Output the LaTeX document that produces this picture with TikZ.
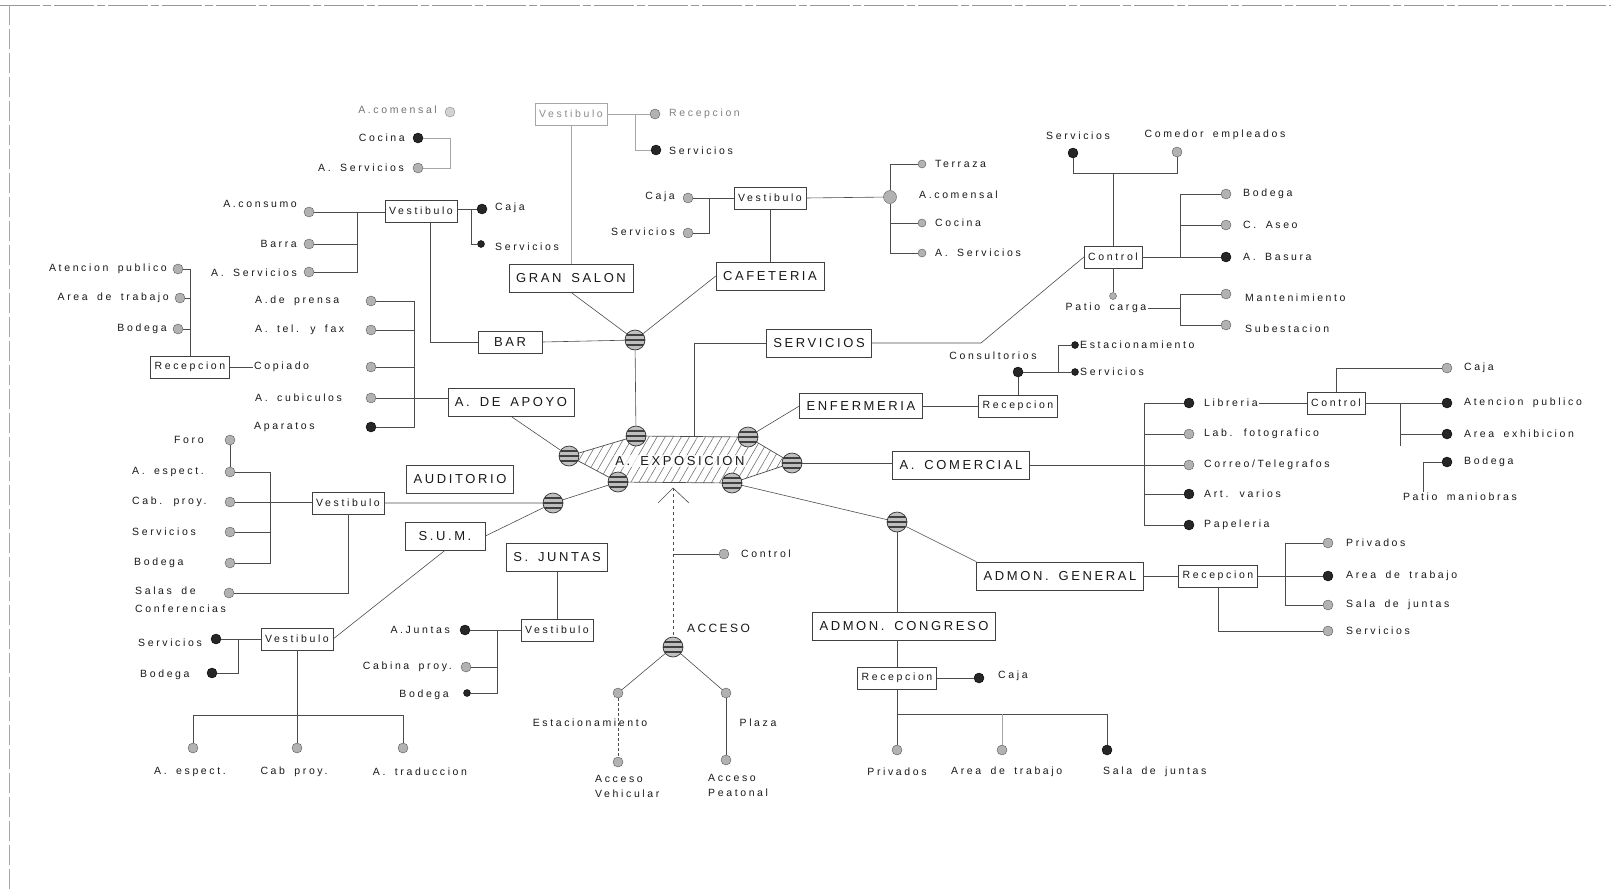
\documentclass[tikz,border=0pt]{standalone}
\usepackage{fontspec}
\setmainfont{Liberation Sans}[LetterSpace=25, WordSpace=1.7]
\newfontfamily\roomfont{Liberation Sans}[LetterSpace=20, WordSpace=1.6]
\usetikzlibrary{patterns.meta, backgrounds}

\begin{document}
\begin{tikzpicture}[x=1pt, y=-1pt,
	link/.style={draw=black!70, line width=0.6pt},
	faint/.style={draw=black!35, line width=0.6pt},
	txt/.style={font=\fontsize{10.5}{13}\selectfont, text=black!90, inner sep=1pt},
	room/.style={draw=black!75, line width=0.7pt, fill=white, text=black!90,
		font=\roomfont\fontsize{13}{15}\selectfont, inner xsep=7pt, minimum height=28pt},
	sub/.style={draw=black!75, line width=0.6pt, fill=white, text=black!90,
		font=\fontsize{10.5}{13}\selectfont, inner xsep=4pt, minimum height=22pt},
	dot/.style={circle, fill=gray!60, draw=black!65, minimum size=10pt, inner sep=0pt},
	dotk/.style={dot, fill=black!85, draw=black},
	sdot/.style={dotk, minimum size=7pt},
	globe/.style={circle, fill=gray!50, draw=black!80, line width=0.7pt, minimum size=20pt, inner sep=0pt,
		path picture={\foreach \k in {-5,0,5}
			\draw[black!75, line width=1.1pt] ([yshift=\k*1pt]path picture bounding box.west) -- ([yshift=\k*1pt]path picture bounding box.east);}}
	]
	\useasboundingbox (0,0) rectangle (1611,889);
	\draw[black!40, dash pattern=on 40pt off 3pt on 8pt off 3pt] (0,5) -- (1611,5);
	\draw[black!35, dash pattern=on 20pt off 4pt] (9,5) -- (9,889);

	% rooms
	\node[room] (gransalon) at (571,278) {GRAN SALON};
	\node[room] (cafeteria) at (770,276) {CAFETERIA};
	\node[room, minimum width=64pt, minimum height=22pt] (bar) at (510,342) {BAR};
	\node[room] (servicios) at (819,343) {SERVICIOS};
	\node[room] (apoyo) at (511,402) {A. DE APOYO};
	\node[room, minimum height=25pt] (enfermeria) at (861,406) {ENFERMERIA};
	\node[room] (comercial) at (961,465) {A. COMERCIAL};
	\node[room] (auditorio) at (460,479) {AUDITORIO};
	\node[room, minimum width=80pt] (sum) at (445,536) {S.U.M.};
	\node[room] (juntas) at (557,557) {S. JUNTAS};
	\node[room] (admongen) at (1060,576) {ADMON. GENERAL};
	\node[room] (admoncong) at (904,626) {ADMON. CONGRESO};

	\node[sub, draw=black!35, text=black!45] (gsvest) at (571,114) {Vestibulo};
	\node[sub] (barvest) at (421,211) {Vestibulo};
	\node[sub] (cafvest) at (770,198) {Vestibulo};
	\node[sub] (ctlserv) at (1113,257) {Control};
	\node[sub] (leftrec) at (190,367) {Recepcion};
	\node[sub] (audvest) at (348,503) {Vestibulo};
	\node[sub] (sumvest) at (297,639) {Vestibulo};
	\node[sub] (sjvest) at (557,630) {Vestibulo};
	\node[sub] (enfrec) at (1018,406) {Recepcion};
	\node[sub] (ctlcom) at (1336,403) {Control};
	\node[sub] (agrec) at (1218,576) {Recepcion};
	\node[sub] (acrec) at (897,678) {Recepcion};

	% hub
	\node[globe] (g1) at (635,340) {};
	\node[globe] (ga) at (636,436) {};
	\node[globe] (gl) at (569,456) {};
	\node[globe] (gtr) at (748,437) {};
	\node[globe] (gr) at (792,463) {};
	\node[globe] (gbr) at (732,483) {};
	\node[globe] (gbl) at (618,482) {};
	\node[globe] (gaud) at (553,503) {};
	\node[globe] (gadm) at (897,522) {};
	\node[globe] (gacc) at (673,647) {};
	\begin{scope}[on background layer]
		\draw[draw=black!70, line width=0.7pt, pattern={Lines[angle=60,distance=7pt,line width=0.6pt]}, pattern color=black!55]
		(gl.center) -- (ga.center) -- (gtr.center) -- (gr.center) -- (gbr.center) -- (gbl.center) -- cycle;
	\end{scope}
	\node[font=\roomfont\fontsize{13}{15}\selectfont, text=black!90, fill=white, fill opacity=0.75, text opacity=1, inner sep=1.5pt] (expo) at (680,461) {A. EXPOSICION};

	% left reception
	\node[dot] (ap) at (178,269) {};  \node[txt, anchor=east] (apt) at (168,269) {Atencion publico};
	\node[dot] (atr) at (180,298) {}; \node[txt, anchor=east] (atrt) at (170,298) {Area de trabajo};
	\node[dot] (ab) at (178,329) {};  \node[txt, anchor=east] (abt) at (168,329) {Bodega};
	\node[txt, anchor=west] (cpt) at (253,367) {Copiado};
	\node[dot] (cp) at (371,367) {};
	\node[dot] (pr) at (371,301) {};  \node[txt, anchor=west] (prt) at (254,301) {A.de prensa};
	\node[dot] (tf) at (371,330) {};  \node[txt, anchor=west] (tft) at (254,330) {A. tel. y fax};
	\node[dot] (cu) at (371,398) {};  \node[txt, anchor=west] (cut) at (254,398) {A. cubiculos};
	\node[dotk] (apa) at (371,427) {}; \node[txt, anchor=west] (apat) at (253,427) {Aparatos};

	% bar
	\node[dot] (cons) at (309,212) {};  \node[txt, anchor=east] (const) at (298,204) {A.consumo};
	\node[dot] (bra) at (309,244) {};   \node[txt, anchor=east] (brat) at (298,244) {Barra};
	\node[dot] (bas1) at (309,272) {};  \node[txt, anchor=east] (bas1t) at (298,273) {A. Servicios};
	\node[dotk] (bcaja) at (482,209) {}; \node[txt, anchor=west] (bcajat) at (494,208) {Caja};
	\node[sdot] (bser) at (481,244) {}; \node[txt, anchor=west] (bsert) at (494,247) {Servicios};

	% upper left group and gran salon
	\node[dot, draw=black!45, fill=gray!35] (tcom) at (450,112) {};
	\node[txt, anchor=east, text=black!55] (tcomt) at (438,110) {A.comensal};
	\node[dotk] (tcoc) at (418,138) {}; \node[txt, anchor=east] (tcoct) at (406,138) {Cocina};
	\node[dot] (tas) at (418,168) {};  \node[txt, anchor=east] (tast) at (405,168) {A. Servicios};
	\node[dot] (grec) at (655,114) {}; \node[txt, anchor=west, text=black!50] (grect) at (668,114) {Recepcion};
	\node[dotk] (gser) at (656,150) {}; \node[txt, anchor=west] (gsert) at (668,151) {Servicios};

	% cafeteria
	\node[dot] (ccaja) at (688,198) {}; \node[txt, anchor=east] (ccajat) at (676,197) {Caja};
	\node[dot] (cser) at (688,233) {};  \node[txt, anchor=east] (csert) at (676,232) {Servicios};
	\node[dot, minimum size=13pt] (ccom) at (890,197) {}; \node[txt, anchor=west] (ccomt) at (918,195) {A.comensal};
	\node[dot, minimum size=8pt] (cter) at (922,164) {}; \node[txt, anchor=west] (ctert) at (934,164) {Terraza};
	\node[dot, minimum size=8pt] (ccoc) at (922,223) {}; \node[txt, anchor=west] (ccoct) at (934,223) {Cocina};
	\node[dot, minimum size=8pt] (cas) at (922,253) {};  \node[txt, anchor=west] (cast) at (934,253) {A. Servicios};

	% servicios
	\node[dotk] (srv) at (1073,153) {}; \node[txt] (srvt) at (1078,136) {Servicios};
	\node[dot] (ced) at (1177,152) {};  \node[txt] (cedt) at (1215,135) {Comedor empleados};
	\node[dot] (sbod) at (1226,194) {}; \node[txt, anchor=west] (sbodt) at (1242,194) {Bodega};
	\node[dot] (sase) at (1226,225) {}; \node[txt, anchor=west] (saset) at (1242,225) {C. Aseo};
	\node[dotk] (sbas) at (1226,257) {}; \node[txt, anchor=west] (sbast) at (1242,257) {A. Basura};
	\node[dot, minimum size=7pt] (pc) at (1113,296) {}; \node[txt] (pct) at (1106,308) {Patio carga};
	\node[dot] (man) at (1226,294) {};  \node[txt, anchor=west] (mant) at (1244,298) {Mantenimiento};
	\node[dot] (subst) at (1226,325) {}; \node[txt, anchor=west] (substt) at (1244,329) {Subestacion};

	% enfermeria
	\node[dotk] (consd) at (1018,372) {}; \node[txt] (consdt) at (993,356) {Consultorios};
	\node[sdot] (eest) at (1075,345) {}; \node[txt, anchor=west] (eestt) at (1079,345) {Estacionamiento};
	\node[sdot] (eser) at (1075,372) {}; \node[txt, anchor=west] (esert) at (1079,372) {Servicios};

	% comercial
	\node[dotk] (lib) at (1189,403) {}; \node[txt, anchor=west] (libt) at (1203,403) {Libreria};
	\node[dot] (lab) at (1189,434) {};  \node[txt, anchor=west] (labt) at (1203,434) {Lab. fotografico};
	\node[dot] (cor) at (1189,465) {};  \node[txt, anchor=west] (cort) at (1203,465) {Correo/Telegrafos};
	\node[dotk] (art) at (1189,494) {}; \node[txt, anchor=west] (artt) at (1203,494) {Art. varios};
	\node[dotk] (pap) at (1189,525) {}; \node[txt, anchor=west] (papt) at (1203,525) {Papeleria};
	\node[dot] (caja2) at (1447,368) {}; \node[txt, anchor=west] (caja2t) at (1463,368) {Caja};
	\node[dotk] (atp) at (1447,403) {}; \node[txt, anchor=west] (atpt) at (1463,403) {Atencion publico};
	\node[dotk] (aex) at (1447,434) {}; \node[txt, anchor=west] (aext) at (1463,434) {Area exhibicion};
	\node[dotk] (bod2) at (1447,462) {}; \node[txt, anchor=west] (bod2t) at (1463,462) {Bodega};
	\node[txt] (pmt) at (1460,497) {Patio maniobras};

	% admon
	\node[dot] (pv) at (1328,543) {};   \node[txt, anchor=west] (pvt) at (1345,543) {Privados};
	\node[dotk] (adt2) at (1328,576) {}; \node[txt, anchor=west] (adt2t) at (1345,576) {Area de trabajo};
	\node[dot] (sj2) at (1328,605) {};  \node[txt, anchor=west] (sj2t) at (1345,605) {Sala de juntas};
	\node[dot] (sv2) at (1328,631) {};  \node[txt, anchor=west] (sv2t) at (1345,631) {Servicios};
	\node[dotk] (caja3) at (979,678) {}; \node[txt, anchor=west] (caja3t) at (997,676) {Caja};
	\node[dot] (pri) at (897,750) {};   \node[txt] (prit) at (897,772) {Privados};
	\node[dot] (adt) at (1002,750) {};  \node[txt, anchor=west] (adtt) at (950,772) {Area de trabajo};
	\node[dotk] (sdj) at (1107,750) {}; \node[txt, anchor=west] (sdjt) at (1102,772) {Sala de juntas};

	% acceso
	\coordinate (ent) at (673,488);
	\coordinate (entl) at (658,503);
	\coordinate (entr) at (689,503);
	\node[dot] (ctl) at (724,554) {}; \node[txt, anchor=west] (ctlt) at (740,554) {Control};
	\node[txt, anchor=west, font=\roomfont\fontsize{12}{14}\selectfont] (acct) at (686,628) {ACCESO};
	\node[dot] (estd) at (618,693) {}; \node[txt] (estt) at (590,723) {Estacionamiento};
	\node[dot] (plad) at (726,693) {}; \node[txt] (plat) at (758,723) {Plaza};
	\node[dot] (avd) at (618,762) {};
	\node[txt, anchor=north west, align=left, font=\fontsize{10.5}{15}\selectfont] (avt) at (594,774) {Acceso\\Vehicular};
	\node[dot] (apd) at (726,760) {};
	\node[txt, anchor=north west, align=left, font=\fontsize{10.5}{15}\selectfont] (apdt) at (707,773) {Acceso\\Peatonal};

	% juntas
	\node[dotk] (aj) at (465,630) {}; \node[txt, anchor=east] (ajt) at (451,630) {A.Juntas};
	\node[dot] (cpy) at (466,667) {}; \node[txt, anchor=east] (cpyt) at (453,667) {Cabina proy.};
	\node[dotk, minimum size=7pt] (jbod) at (467,693) {}; \node[txt, anchor=east] (jbodt) at (450,695) {Bodega};

	% auditorio and sum
	\node[dot] (foro) at (230,440) {}; \node[txt, anchor=west] (forot) at (173,440) {Foro};
	\node[dot] (aes) at (230,472) {};  \node[txt, anchor=west] (aest) at (131,472) {A. espect.};
	\node[dot] (cpr) at (230,502) {};  \node[txt, anchor=west] (cprt) at (131,502) {Cab. proy.};
	\node[dot] (aser) at (230,532) {}; \node[txt, anchor=west] (asert) at (131,532) {Servicios};
	\node[dot] (abod) at (230,563) {}; \node[txt, anchor=west] (abodt) at (133,563) {Bodega};
	\node[dot] (sal) at (229,593) {};
	\node[txt, anchor=north west, align=left, font=\fontsize{10.5}{18}\selectfont] (salt) at (134,586) {Salas de\\Conferencias};
	\node[dotk] (sser) at (216,639) {}; \node[txt, anchor=west] (ssert) at (137,643) {Servicios};
	\node[dotk] (sbod2) at (212,673) {}; \node[txt, anchor=west] (sbod2t) at (139,675) {Bodega};
	\node[dot] (bes) at (193,748) {}; \node[txt] (best) at (190,772) {A. espect.};
	\node[dot] (bcp) at (297,748) {}; \node[txt] (bcpt) at (294,772) {Cab proy.};
	\node[dot] (btr) at (403,748) {}; \node[txt] (btrt) at (420,772) {A. traduccion};

	% connectors
	\draw[link] (ap) -| (leftrec.north);
	\draw[link] (atr) -- (atr -| leftrec.north);
	\draw[link] (ab) -- (ab -| leftrec.north);
	\draw[link] (leftrec) -- (cpt);
	\coordinate (apx) at (414,0);
	\draw[link] (pr) -- (pr -| apx) -- (apa -| apx) -- (apa);
	\draw[link] (tf) -- (tf -| apx);
	\draw[link] (cp) -- (cp -| apx);
	\draw[link] (cu) -- (cu -| apoyo.west);
	\draw[link] (apoyo.south) -- (gl);

	\coordinate (brx) at (357,0);
	\draw[link] (cons) -- (cons -| barvest.west);
	\draw[link] (cons -| brx) -- (bas1 -| brx) -- (bas1);
	\draw[link] (bra) -- (bra -| brx);
	\draw[link] (barvest.east |- bcaja) -- (bcaja);
	\coordinate (bcx) at (471,0);
	\draw[link] (bcaja -| bcx) -- (bser -| bcx) -- (bser);
	\coordinate (bvx) at (430,0);
	\draw[link] (barvest.south -| bvx) |- (bar.west);
	\draw[link] (bar.east) -- (g1);

	\draw[faint] (tcoc) -- (tcoc -| tcom) -- (tas -| tcom) -- (tas);
	\coordinate (gsx) at (635,0);
	\draw[faint] (gsvest.east) -- (grec);
	\draw[faint] (grec -| gsx) -- (gser -| gsx) -- (gser);
	\draw[faint] (gsvest.south) -- (gransalon.north);
	\draw[link] (gransalon.south) -- (g1);
	\draw[link] (g1) -- (cafeteria.west);
	\draw[link] (g1) -- (ga);

	\coordinate (cfx) at (709,0);
	\draw[link] (cafvest.west) -- (ccaja);
	\draw[link] (ccaja -| cfx) -- (cser -| cfx) -- (cser);
	\draw[link] (cafvest) -- (cafeteria);
	\draw[link] (cafvest.east) -- (ccom);
	\draw[link] (cter) -- (cter -| ccom) -- (ccom);
	\draw[link] (ccom) -- (cas -| ccom) -- (cas);
	\draw[link] (ccoc) -- (ccoc -| ccom);

	\coordinate (sx) at (694,0);
	\draw[link] (servicios.west) -- (servicios.west -| sx) -- (sx |- ga);
	\coordinate (sv) at (981,343);
	\draw[link] (servicios.east) -- (sv) -- (ctlserv.west);
	\coordinate (cbar) at (0,173);
	\draw[link] (srv) -- (srv |- cbar) -- (ced |- cbar) -- (ced);
	\draw[link] (ctlserv.north) -- (ctlserv.north |- cbar);
	\coordinate (scx) at (1180,0);
	\draw[link] (ctlserv.east) -- (sbas);
	\draw[link] (sbod) -- (sbod -| scx) -- (sbas -| scx);
	\draw[link] (sase) -- (sase -| scx);
	\draw[link] (ctlserv.south) -- (pc);
	\draw[link] (man) -- (man -| scx) -- (subst -| scx) -- (subst);
	\draw[link] (pct.east) -- (pct.east -| scx);

	\draw[link] (gtr) -- (enfermeria.west);
	\draw[link] (enfermeria.east) -- (enfrec.west);
	\draw[link, line width=1pt] (consd) -- (enfrec.north);
	\coordinate (ecx) at (1058,0);
	\draw[link] (consd) -- (eser);
	\draw[link] (eest) -- (eest -| ecx) -- (eser -| ecx);

	\draw[link] (gr) -- (gr -| comercial.west);
	\draw[link] (comercial.east) -- (cor);
	\coordinate (lx) at (1144,0);
	\draw[link] (lib) -- (lib -| lx) -- (pap -| lx) -- (pap);
	\draw[link] (lab) -- (lab -| lx);
	\draw[link] (art) -- (art -| lx);
	\draw[link] (libt.east) -- (ctlcom.west);
	\draw[link] (ctlcom.north) |- (caja2);
	\draw[link] (ctlcom.east) -- (atp);
	\coordinate (cmx) at (1400,446);
	\draw[link] (atp -| cmx) -- (cmx);
	\draw[link] (aex) -- (aex -| cmx);
	\coordinate (cbx) at (1423,0);
	\draw[link] (bod2) -- (bod2 -| cbx) -- (pmt.north -| cbx);

	\draw[link] (gbr) -- (gadm) -- (admongen.north west);
	\draw[link] (gadm) -- (gadm |- admoncong.north);
	\draw[link] (admoncong.south -| acrec) -- (acrec);
	\draw[link] (acrec) -- (caja3);
	\coordinate (cbb) at (0,714);
	\draw[link] (acrec) -- (pri);
	\draw[link] (pri |- cbb) -- (sdj |- cbb) -- (sdj);
	\draw[faint] (adt |- cbb) -- (adt);
	\draw[link] (admongen.east) -- (agrec.west);
	\coordinate (agx) at (1285,0);
	\draw[link] (agrec.east) -- (adt2);
	\draw[link] (pv) -- (pv -| agx) -- (sj2 -| agx) -- (sj2);
	\draw[link] (agrec.south) |- (sv2);

	\coordinate (adx) at (270,0);
	\draw[link] (foro) -- (aes);
	\draw[link] (aes) -- (aes -| adx) -- (abod -| adx) -- (abod);
	\draw[link] (aser) -- (aser -| adx);
	\draw[link] (cpr) -- (cpr -| audvest.west);
	\draw[link] (sal) -| (audvest.south);
	\draw[link] (audvest.east) -- (gaud) -- (gbl);
	\draw[link] (gaud) -- (sum.east);
	\draw[link] (sum.south) -- (sumvest.east);
	\coordinate (smx) at (238,0);
	\draw[link] (sser) -- (sumvest.west);
	\draw[link] (sser -| smx) -- (sbod2 -| smx) -- (sbod2);
	\coordinate (sbb) at (0,715);
	\draw[link] (sumvest) -- (bcp);
	\draw[link] (bes) -- (bes |- sbb) -- (btr |- sbb) -- (btr);

	\draw[link] (juntas) -- (sjvest);
	\draw[link] (sjvest.west) -- (aj);
	\coordinate (jx) at (497,0);
	\draw[link] (aj -| jx) -- (jbod -| jx) -- (jbod);
	\draw[link] (cpy) -- (cpy -| jx);

	\draw[link] (entl) -- (ent) -- (entr);
	\draw[link, dashed] (ent) -- (gacc);
	\draw[link] (ctl) -- (ctl -| ent);
	\draw[link] (gacc) -- (estd);
	\draw[link] (gacc) -- (plad);
	\draw[link, densely dashed] (estd) -- (avd);
	\draw[link] (plad) -- (apd);
\end{tikzpicture}
\end{document}
